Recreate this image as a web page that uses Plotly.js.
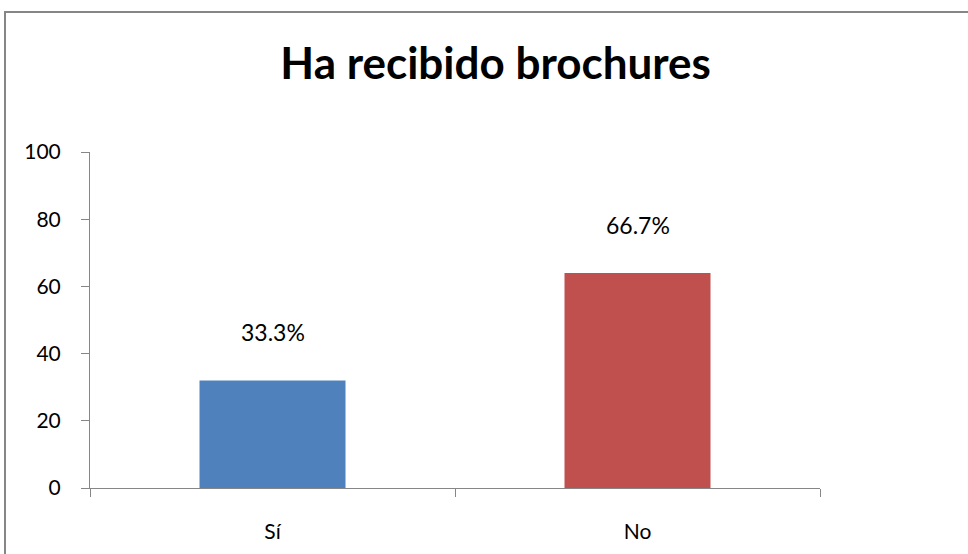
<!DOCTYPE html>
<html>
<head>
<meta charset="utf-8">
<script src="https://cdn.plot.ly/plotly-3.0.1.min.js"></script>
<style>
  html, body { margin: 0; padding: 0; background: #fff; }
  #wrap { position: relative; width: 968px; height: 554px; overflow: hidden; }
  #frame { position: absolute; left: 4px; top: 11px; width: 2000px; height: 2000px;
           border-left: 2px solid #868686; border-top: 2px solid #868686; pointer-events: none; z-index: 5; }
  #chart { position: absolute; left: 0; top: 0; width: 968px; height: 554px; }
</style>
</head>
<body>
<div id="wrap">
  <div id="chart"></div>
  <div id="frame"></div>
</div>
<script>
const categories = ["Sí", "No"];
const values = [32, 64];
const labels = ["33.3%", "66.7%"];
const colors = ["#4F81BD", "#C0504D"];
const yTicks = [0, 20, 40, 60, 80, 100];

const fontFam = "Lato, 'Open Sans', sans-serif";

const trace = {
  type: "bar",
  x: categories,
  y: values,
  marker: { color: colors, line: { width: 0 } },
  hoverinfo: "skip"
};

const annotations = categories.map((c, i) => ({
  x: c, y: values[i], xref: "x", yref: "y",
  text: labels[i], showarrow: false,
  yanchor: "bottom", yshift: 32,
  font: { family: fontFam, size: 23, color: "#000" }
}));

const layout = {
  width: 968, height: 554,
  margin: { l: 90, r: 148, t: 152, b: 66 },
  paper_bgcolor: "#fff", plot_bgcolor: "#fff",
  showlegend: false,
  bargap: 0.6,
  title: {
    text: "<b>Ha recibido brochures</b>",
    font: { family: fontFam, size: 44, color: "#000" },
    x: 0.512, xanchor: "center", y: 0.885, yanchor: "middle"
  },
  xaxis: {
    type: "category",
    showline: true, linecolor: "#868686", linewidth: 1,
    ticks: "outside", tickson: "boundaries", ticklen: 8, tickcolor: "#868686",
    showgrid: false, zeroline: false,
    tickfont: { family: fontFam, size: 21, color: "#000" },
    ticklabelstandoff: 25,
    fixedrange: true
  },
  yaxis: {
    range: [0, 100],
    tickvals: yTicks,
    ticktext: yTicks.map(String),
    showline: true, linecolor: "#868686", linewidth: 1,
    ticks: "outside", ticklen: 8, tickcolor: "#868686",
    showgrid: false, zeroline: false,
    tickfont: { family: fontFam, size: 21, color: "#000" },
    ticklabelstandoff: 16,
    fixedrange: true
  },
  annotations: annotations
};

Plotly.newPlot("chart", [trace], layout, { displayModeBar: false, staticPlot: true });
</script>
</body>
</html>
